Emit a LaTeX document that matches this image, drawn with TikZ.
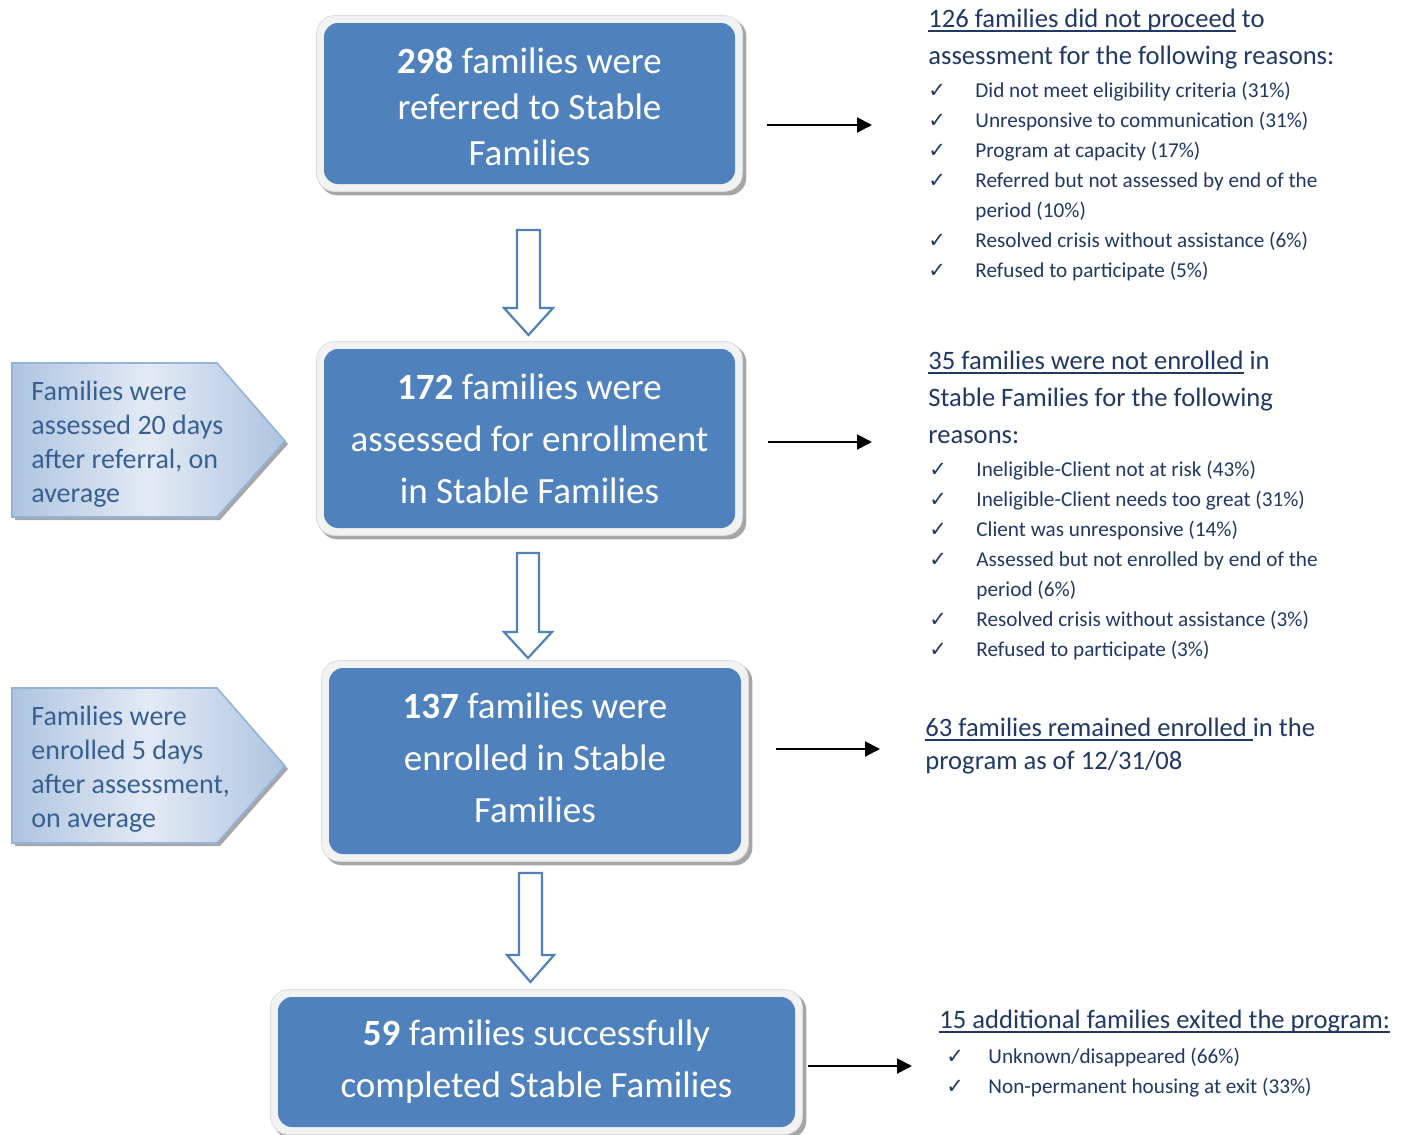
\documentclass[tikz,border=0pt]{standalone}
\usepackage{fontspec}
\setmainfont{Carlito}
\newfontfamily\chkfont{DejaVu Sans}
\usetikzlibrary{arrows.meta,backgrounds,calc}
\definecolor{boxblue}{HTML}{4F81BD}
\definecolor{framegray}{HTML}{F2F2F2}
\definecolor{frameedge}{HTML}{DDDDDD}
\definecolor{shadowgray}{HTML}{A6A6A6}
\definecolor{navy}{HTML}{1F3864}
\definecolor{pentext}{HTML}{376092}
\definecolor{penborder}{HTML}{95B3D7}
\definecolor{pendark}{HTML}{AEC4E0}
\definecolor{penlight}{HTML}{E3EAF5}
\newcommand\ulx[1]{\setbox0\hbox{#1}\rlap{\color{navy}\rule[-2.6pt]{\wd0}{0.9pt}}\box0{}}
\newcommand\ck{\makebox[23.5pt][l]{{\chkfont\fontsize{10.5}{15}\selectfont ✓}}}
\newcommand\ckb{\makebox[21pt][l]{{\chkfont\fontsize{10.5}{15}\selectfont ✓}}}
\newcommand\drawframe[1]{%
  \begin{scope}[on background layer]
    \fill[shadowgray, rounded corners=9pt] ($(#1.north west)+(-4,-4)$) rectangle ($(#1.south east)+(11,11)$);
    \fill[framegray, draw=frameedge, rounded corners=9pt] ($(#1.north west)+(-7,-7)$) rectangle ($(#1.south east)+(7,7)$);
  \end{scope}}
\tikzset{
  bluebox/.style={fill=boxblue, rounded corners=7pt, inner sep=0pt},
  boxtext/.style={text=white, align=center, inner sep=0pt, font=\fontsize{18.5}{26}\selectfont},
  hd/.style={anchor=base west, inner sep=0pt, text=navy, align=left, font=\fontsize{13.3}{18.5}\selectfont},
  itemlist/.style={anchor=base west, inner sep=0pt, text=navy, align=left, font=\fontsize{10.6}{15}\selectfont},
  pentxt/.style={anchor=base west, inner sep=0pt, text=pentext, align=left, font=\fontsize{14}{17}\selectfont},
  flow/.style={-{Triangle[length=7.5pt,width=7.5pt]}, line width=1pt, black},
  blockarrow/.style={draw=boxblue, line width=1.1pt, fill=white, line join=miter},
  pent/.style={draw=penborder, line width=0.8pt, left color=pendark, right color=pendark, middle color=penlight},
}
\begin{document}
\begin{tikzpicture}[x=0.5pt, y=-0.5pt]
\useasboundingbox (0,0) rectangle (1409,1135);

% main boxes
\node[bluebox, minimum width=205.5pt, minimum height=80.5pt] (b1) at (529.5,103.5) {};
\node[boxtext, font=\fontsize{18.5}{23}\selectfont] (t1) at ([yshift=-1.5pt]b1.center)
  {\textbf{298} families were\\referred to Stable\\Families};
\drawframe{b1}
\node[bluebox, minimum width=205.5pt, minimum height=89.5pt] (b2) at (529.5,438.5) {};
\node[boxtext] (t2) at (b2.center) {\textbf{172} families were\\assessed for enrollment\\in Stable Families};
\drawframe{b2}
\node[bluebox, minimum width=206pt, minimum height=93pt] (b3) at (535,761) {};
\node[boxtext] (t3) at ([yshift=1.6pt]b3.center) {\textbf{137} families were\\enrolled in Stable\\Families};
\drawframe{b3}
\node[bluebox, minimum width=258.5pt, minimum height=65pt] (b4) at (536.5,1062) {};
\node[boxtext] (t4) at (b4.center) {\textbf{59} families successfully\\completed Stable Families};
\drawframe{b4}

% hollow block arrows
\draw[blockarrow] (517,230) -- (540,230) -- (540,308) -- (553,308) -- (528.5,335) -- (504,308) -- (517,308) -- cycle;
\draw[blockarrow] (517,553) -- (539,553) -- (539,632) -- (552,632) -- (528,658) -- (504,632) -- (517,632) -- cycle;
\draw[blockarrow] (519,873) -- (542,873) -- (542,955) -- (554,955) -- (530.5,982) -- (507,955) -- (519,955) -- cycle;

% pentagons
\fill[shadowgray] (15,366) -- (220,366) -- (288,444) -- (220,520) -- (15,520) -- cycle;
\path[pent] (12,363) -- (217,363) -- (285,441) -- (217,517) -- (12,517) -- cycle;
\node[pentxt] (p1) at (31,502) {Families were\\assessed 20 days\\after referral, on\\average};
\fill[shadowgray] (15,691) -- (220,691) -- (288,769) -- (220,846) -- (15,846) -- cycle;
\path[pent] (12,688) -- (217,688) -- (285,766) -- (217,843) -- (12,843) -- cycle;
\node[pentxt] (p2) at (31,827) {Families were\\enrolled 5 days\\after assessment,\\on average};

% horizontal arrows
\coordinate (a1s) at (767,125); \coordinate (a1e) at (872,125);
\coordinate (a2s) at (768,442); \coordinate (a2e) at (872,442);
\coordinate (a3s) at (776,749); \coordinate (a3e) at (880,749);
\coordinate (a4s) at (808,1066); \coordinate (a4e) at (912,1066);
\draw[flow] (a1s) -- (a1e);
\draw[flow] (a2s) -- (a2e);
\draw[flow] (a3s) -- (a3e);
\draw[flow] (a4s) -- (a4e);

% right text blocks (anchored at the baseline of their last line)
\node[hd] (h1) at (928,64) {\ulx{126 families did not proceed} to\\assessment for the following reasons:};
\node[itemlist] (l1) at (928,277) {\ck Did not meet eligibility criteria (31\%)\\
\ck Unresponsive to communication (31\%)\\
\ck Program at capacity (17\%)\\
\ck Referred but not assessed by end of the\\
\hspace*{23.5pt}period (10\%)\\
\ck Resolved crisis without assistance (6\%)\\
\ck Refused to participate (5\%)};

\node[hd] (h2) at (928,443) {\ulx{35 families were not enrolled} in\\Stable Families for the following\\reasons:};
\node[itemlist] (l2) at (929,656) {\ck Ineligible-Client not at risk (43\%)\\
\ck Ineligible-Client needs too great (31\%)\\
\ck Client was unresponsive (14\%)\\
\ck Assessed but not enrolled by end of the\\
\hspace*{23.5pt}period (6\%)\\
\ck Resolved crisis without assistance (3\%)\\
\ck Refused to participate (3\%)};

\node[hd, font=\fontsize{13.3}{16.5}\selectfont] (h3) at (925,769) {\ulx{63 families remained enrolled\ }in the\\program as of 12/31/08};

\node[hd] (h4) at (939,1028) {\ulx{15 additional families exited the program:}};
\node[itemlist] (l4) at (946,1093) {\ckb Unknown/disappeared (66\%)\\
\ckb Non-permanent housing at exit (33\%)};
\end{tikzpicture}
\end{document}
